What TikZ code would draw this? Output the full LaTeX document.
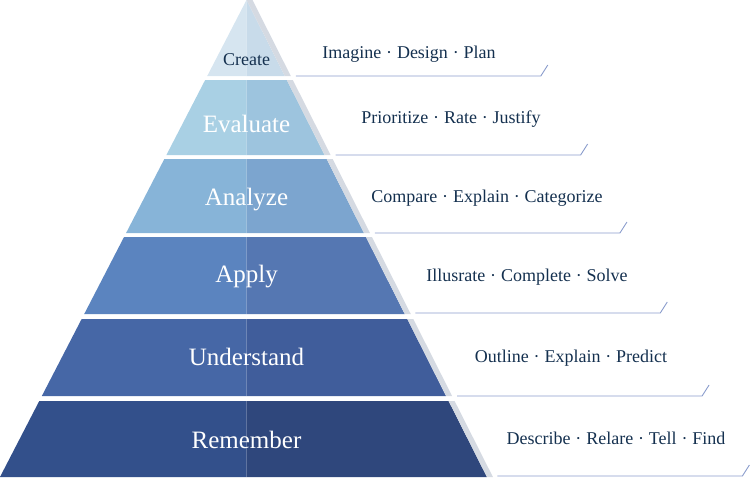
\documentclass[tikz,border=0pt]{standalone}
\usepackage{fontspec}
\setmainfont{Liberation Serif}
\definecolor{cAL}{HTML}{D6E5F0}
\definecolor{cAR}{HTML}{C8DBEA}
\definecolor{cBL}{HTML}{A9D0E4}
\definecolor{cBR}{HTML}{9DC4DE}
\definecolor{cCL}{HTML}{87B4D8}
\definecolor{cCR}{HTML}{7CA5CF}
\definecolor{cDL}{HTML}{5B84BF}
\definecolor{cDR}{HTML}{5577B2}
\definecolor{cEL}{HTML}{4667A6}
\definecolor{cER}{HTML}{405D9B}
\definecolor{cFL}{HTML}{33508B}
\definecolor{cFR}{HTML}{2F477C}
\definecolor{shadowgray}{HTML}{D5DAE2}
\definecolor{linecol}{HTML}{8A9CCC}
\definecolor{desccol}{HTML}{14304F}
\newcommand\pyrtier[4]{%
  \pgfmathsetmacro\xlt{246.5-0.5168*#1}%
  \pgfmathsetmacro\xlb{246.5-0.5168*#2}%
  \pgfmathsetmacro\xrt{246.5+0.504*#1}%
  \pgfmathsetmacro\xrb{246.5+0.504*#2}%
  \fill[#3] (\xlt,#1) -- (246.6,#1) -- (246.6,#2) -- (\xlb,#2) -- cycle;
  \fill[#4] (246.5,#1) -- (\xrt,#1) -- (\xrb,#2) -- (246.5,#2) -- cycle;
  \fill[shadowgray] (\xrt,#1) -- (\xrt+6,#1) -- (\xrb+6,#2) -- (\xrb,#2) -- cycle;
}
\newcommand\pyrline[1]{%
  \pgfmathsetmacro\xrl{246.5+0.504*#1+11}%
  \coordinate (ls#1) at (\xrl,#1);
  \draw[linecol, line width=0.9pt] (ls#1) -- ++(245,0) -- ++(7,-11);
}
\newcommand\sep{\hspace{0.27em}·\hspace{0.27em}}
\begin{document}
\begin{tikzpicture}[x=1pt,y=-1pt,
  tierlab/.style={text=white, anchor=base, inner sep=0pt, font=\fontsize{25}{25}\selectfont},
  desc/.style={text=desccol, anchor=base, inner sep=0pt, font=\fontsize{18}{18}\selectfont}]
\useasboundingbox (0,0) rectangle (752,477);
\pyrtier{0}{76}{cAL}{cAR}
\pyrtier{80}{155}{cBL}{cBR}
\pyrtier{159}{233}{cCL}{cCR}
\pyrtier{237}{314}{cDL}{cDR}
\pyrtier{319}{396}{cEL}{cER}
\pyrtier{401}{477}{cFL}{cFR}
\pyrline{76}
\pyrline{155}
\pyrline{233}
\pyrline{313}
\pyrline{396}
\pyrline{476}
\node[tierlab, text=desccol, font=\fontsize{18}{18}\selectfont] (create) at (246.5,65) {Create};
\node[tierlab] (evaluate) at (246.5,132) {Evaluate};
\node[tierlab] (analyze) at (246.5,205) {Analyze};
\node[tierlab] (apply) at (246.5,282) {Apply};
\node[tierlab] (understand) at (246.5,365) {Understand};
\node[tierlab] (remember) at (246.5,448) {Remember};
\node[desc] (d1) at (409,58) {Imagine\sep Design\sep Plan};
\node[desc] (d2) at (451,123) {Prioritize\sep Rate\sep Justify};
\node[desc] (d3) at (487,202) {Compare\sep Explain\sep Categorize};
\node[desc] (d4) at (527,281) {Illusrate\sep Complete\sep Solve};
\node[desc] (d5) at (571,362) {Outline\sep Explain\sep Predict};
\node[desc] (d6) at (616,444) {Describe\sep Relare\sep Tell\sep Find};
\end{tikzpicture}
\end{document}
